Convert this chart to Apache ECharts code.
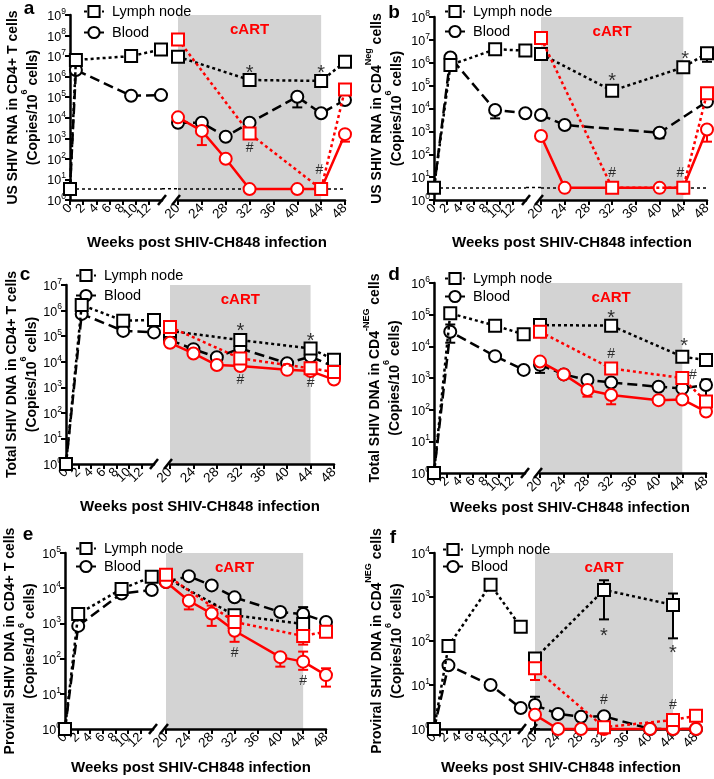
<!DOCTYPE html>
<html><head><meta charset="utf-8">
<script src="https://cdn.jsdelivr.net/npm/echarts@6/dist/echarts.min.js"></script>
<style>html,body{margin:0;padding:0;background:#fff}#c{width:714px;height:779px}</style>
</head><body><div id="c"></div>
<script>
// ---------- DATA: [week, copies per 10^6 cells] ----------
// Panel a: US SHIV RNA in CD4+ T cells
const aLnK = [[0,3.4],[0.9,6.5e6],[9.3,1e7],[13.85,2.1e7],[20,9.3e6],[32,6.9e5],[44,6.2e5],[48,5.3e6]];
const aBlK = [[0,3.4],[0.9,2.1e6],[9.3,1.18e5],[13.85,1.27e5],[20,5.7e3],[24,5.7e3],[28,1.2e3],[32,5.7e3],[40,1.05e5],[44,1.65e4],[48,7.3e4]];
const aLnR = [[20,6.5e7],[32,1.7e3],[44,3.4],[48,2.4e5]];
const aBlR = [[20,1.05e4],[24,2.3e3],[28,102],[32,3.4],[40,3.4],[44,3.4],[48,1.6e3]];
const aErrK = [[40,3.2e4,1.05e5]];
const aErrR = [[24,470,2.3e3],[48,690,1.6e3]];
const aStar = [[32,2.6e6],[44,2.5e6]];
const aHash = [[32,340],[43.7,29]];
// Panel b: US SHIV RNA in CD4Neg cells
const bLnK = [[0,3.4],[2.5,8e5],[9.3,3.9e6],[13.9,3.4e6],[20,2.4e6],[32,6e4],[44,6.3e5],[48,2.6e6]];
const bBlK = [[0,3.4],[2.5,1.7e6],[9.3,8.6e3],[13.9,6.2e3],[20,5.2e3],[24,1.9e3],[40,870],[48,2e4]];
const bLnR = [[20,1.2e7],[32,3.4],[44,3.4],[48,4.6e4]];
const bBlR = [[20,630],[24,3.4],[40,3.4],[44,3.4],[48,1.2e3]];
const bErrK = [[2.5,6e5,1e6],[9.3,3.7e3,8.6e3],[40,500,870],[48,1.1e6,2.6e6]];
const bErrR = [[48,355,1.2e3]];
const bStar = [[32,2.5e5],[44.3,2.2e6]];
const bHash = [[32,15],[43.5,15]];
// Panel c: Total SHIV DNA in CD4+ T cells
const cLnK = [[0,1],[2.5,1.65e6],[9.1,4e5],[14,4.3e5],[20,1.6e5],[32,7e4],[44,3.3e4],[48,1.2e4]];
const cBlK = [[0,1],[2.5,7.4e5],[9.1,1.6e5],[14,1.4e5],[20,7e4],[24,3.1e4],[28,1.5e4],[32,3.3e4],[40,8.7e3],[44,1.6e4],[48,6.3e3]];
const cLnR = [[20,2.3e5],[32,1.35e4],[44,5.5e3],[48,4e3]];
const cBlR = [[20,5.5e4],[24,2.1e4],[28,7.4e3],[32,6.8e3],[40,4.8e3],[44,4.3e3],[48,2e3]];
const cErrK = [];
const cErrR = [[28,5.5e3,7.4e3]];
const cStar = [[32,2.3e5],[44,1e5]];
const cHash = [[32,1.9e3],[44,1.45e3]];
// Panel d: Total SHIV DNA in CD4-NEG cells
const dLnK = [[0,1],[2.5,1.1e5],[9.4,4.5e4],[13.8,2.4e4],[20,4.7e4],[32,4.5e4],[44,4.7e3],[48,3.7e3]];
const dBlK = [[0,1],[2.5,2.9e4],[9.4,4.9e3],[13.8,1.8e3],[20,2.6e3],[24,1.3e3],[28,870],[32,720],[40,530],[44,470],[48,600]];
const dLnR = [[20,2.9e4],[32,2e3],[44,1e3],[48,180]];
const dBlR = [[20,3.3e3],[24,1.3e3],[28,420],[32,290],[40,200],[44,210],[48,87]];
const dErrK = [[2.5,1.3e4,4.9e4],[20,1.45e3,3.7e3],[32,380,720],[48,220,900]];
const dErrR = [[28,257,420],[32,148,290]];
const dStar = [[32,1.1e5],[44.3,1.45e4]];
const dHash = [[32,5.7e3],[45.8,1.2e3]];
// Panel e: Proviral SHIV DNA in CD4+ T cells
const eLnK = [[0,1],[2.1,1.85e3],[9,9.5e3],[13.8,2.1e4],[20,2e4],[32,1.7e3],[44,960]];
const eBlK = [[0,1],[2.1,850],[9,7.1e3],[13.8,8.9e3],[20,1.5e4],[24,2.2e4],[28,1.2e4],[32,5.5e3],[40,2.1e3],[44,1.85e3],[48,1.1e3]];
const eLnR = [[20,2.4e4],[32,1.1e3],[44,440],[48,580]];
const eBlR = [[20,1.5e4],[24,4.4e3],[28,1.9e3],[32,620],[40,110],[44,82],[48,34]];
const eErrK = [[44,1.85e3,2.9e3]];
const eErrR = [[24,2.5e3,4.4e3],[28,850,3.2e3],[32,300,2.4e3],[40,59,110],[44,48,158],[44,250,440],[48,16,53]];
const eStar = [];
const eHash = [[32,141],[44,23]];
// Panel f: Proviral SHIV DNA in CD4NEG cells
const fLnK = [[0,1],[2.3,77],[9,1.9e3],[13.8,210],[20,40],[32,1.45e3],[44,660]];
const fBlK = [[0,1],[2.3,28],[9,10],[13.8,3],[20,3.5],[24,2.2],[28,1.9],[32,1.95],[40,1],[44,1],[48,1]];
const fLnR = [[20,24],[32,1.1],[44,1.6],[48,2]];
const fBlR = [[20,2.1],[24,1],[28,1],[32,1],[40,1],[44,1],[48,1]];
const fErrK = [[32,310,2.4e3],[44,115,1.2e3],[20,1,5.4]];
const fErrR = [[20,13,24]];
const fStar = [[32,162],[44,68]];
const fHash = [[32,4.6],[44,3.5]];

const leftTicks = [0,2,4,6,8,10,12];
const detectionLimit = 3.5;

// ---------- LAYOUT ----------
const FONT = '"Liberation Sans", Arial, Helvetica, sans-serif';
const RED = '#ff0000';
const GRAY = '#d3d3d3';
const SUB = '\n{t|(Copies/10}{s|6}{t| cells)}';
const panels = [
 {id:'a', ya:70, lw:92, x20:178, x48:345, top:15, bottom:200, ymax:1e9, gap:30, letter:[29,9], xt:[207,243], lg:[78,-1,6],
  title:'{t|US SHIV RNA in CD4+ T cells}'+SUB, lnK:aLnK, blK:aBlK, lnR:aLnR, blR:aBlR, errK:aErrK, errR:aErrR, star:aStar, hash:aHash, lod:true},
 {id:'b', ya:434, lw:92, x20:541, x48:707, top:17, bottom:200, ymax:1e8, gap:30, letter:[394,13], xt:[572,243], lg:[439,-1,5],
  title:'{t|US SHIV RNA in CD4}{s|Neg}{t| cells}'+SUB, lnK:bLnK, blK:bBlK, lnR:bLnR, blR:bBlR, errK:bErrK, errR:bErrR, star:bStar, hash:bHash, lod:true},
 {id:'c', ya:66, lw:88, x20:170, x48:334, top:285, bottom:464, ymax:1e7, gap:26, letter:[25,275], xt:[200,507], lg:[70,263,5],
  title:'{t|Total SHIV DNA in CD4+ T cells}'+SUB, lnK:cLnK, blK:cBlK, lnR:cLnR, blR:cBlR, errK:cErrK, errR:cErrR, star:cStar, hash:cHash},
 {id:'d', ya:434, lw:91, x20:540, x48:706, top:283, bottom:473, ymax:1e6, gap:32, letter:[394,275], xt:[570,508], lg:[439,266,3],
  title:'{t|Total SHIV DNA in CD4}{s|-NEG}{t| cells}'+SUB, lnK:dLnK, blK:dBlK, lnR:dLnR, blR:dBlR, errK:dErrK, errR:dErrR, star:dStar, hash:dHash},
 {id:'e', ya:65, lw:88, x20:166, x48:326, top:553, bottom:729, ymax:1e5, gap:28, letter:[28,535], xt:[191,768], lg:[70,536,3],
  title:'{t|Proviral SHIV DNA in CD4+ T cells}'+SUB, lnK:eLnK, blK:eBlK, lnR:eLnR, blR:eBlR, errK:eErrK, errR:eErrR, star:eStar, hash:eHash},
 {id:'f', ya:434, lw:88, x20:535, x48:696, top:553, bottom:729, ymax:1e4, gap:30, letter:[393,538], xt:[561,768], lg:[437,537,2],
  title:'{t|Proviral SHIV DNA in CD4}{s|NEG}{t| cells}'+SUB, lnK:fLnK, blK:fBlK, lnR:fLnR, blR:fBlR, errK:fErrK, errR:fErrR, star:fStar, hash:fHash}
];

const L = d => d.filter(p => p[0] < 16);
const R = d => d.filter(p => p[0] >= 16);

const grid=[], xAxis=[], yAxis=[], series=[], legend=[], graphic=[];
const axLine = {show:true, lineStyle:{color:'#000', width:2.5}};
const axTick = {show:true, length:5, lineStyle:{color:'#000', width:2}};
const xLab = {rotate:45, fontSize:13.5, color:'#000', fontFamily:FONT, margin:6, showMinLabel:true, showMaxLabel:true, hideOverlap:false};

function lineSeries(name, data, gi, isLN, color, z){
  return {type:'line', name:name, xAxisIndex:gi, yAxisIndex:gi, data:data, z:z, clip:false,
    symbol: isLN ? 'rect' : 'circle', symbolSize: 12,
    itemStyle:{color:'#fff', borderColor:color, borderWidth:2},
    lineStyle:{color:color, width:2.5, type: isLN ? [3,3] : (color===RED ? 'solid' : [10,5])},
    emphasis:{disabled:true}};
}
function errSeries(data, gi, color){
  return {type:'custom', xAxisIndex:gi, yAxisIndex:gi, data:data, z:4, clip:false,
    encode:{x:0, y:[1,2]},
    renderItem:(params, api)=>{
      const x = api.value(0);
      const lo = api.coord([x, api.value(1)]);
      const hi = api.coord([x, api.value(2)]);
      const w = 5, st = {stroke:color, lineWidth:2};
      return {type:'group', children:[
        {type:'line', shape:{x1:lo[0],y1:lo[1],x2:hi[0],y2:hi[1]}, style:st},
        {type:'line', shape:{x1:lo[0]-w,y1:lo[1],x2:lo[0]+w,y2:lo[1]}, style:st},
        {type:'line', shape:{x1:hi[0]-w,y1:hi[1],x2:hi[0]+w,y2:hi[1]}, style:st}]};
    }};
}
function annSeries(data, gi, txt, size, dy){
  return {type:'scatter', xAxisIndex:gi, yAxisIndex:gi, data:data, z:9, symbolSize:1,
    itemStyle:{color:'rgba(0,0,0,0)'}, silent:true,
    label:{show:true, position:'inside', offset:[0,dy], formatter:txt, fontSize:size, color:'#000', fontFamily:FONT}};
}
const lodStyle = {color:'#000', width:1.5, type:[3,3]};

panels.forEach((p,i)=>{
  const gL = 2*i, gR = 2*i+1, h = p.bottom - p.top;
  const decades = Math.round(Math.log10(p.ymax));
  grid.push({left:p.ya, top:p.top, width:p.lw, height:h, outerBoundsMode:'none', containLabel:false});
  grid.push({left:p.x20, top:p.top, width:p.x48-p.x20, height:h, outerBoundsMode:'none', containLabel:false});
  xAxis.push({gridIndex:gL, type:'value', min:0, max:14, interval:2, z:3, axisLine:axLine,
    axisTick:Object.assign({customValues:leftTicks}, axTick),
    axisLabel:Object.assign({}, xLab, {fontSize:13, showMaxLabel:false,
      formatter:v => leftTicks.indexOf(v) >= 0 ? String(v) : ''}), splitLine:{show:false}});
  xAxis.push({gridIndex:gR, type:'value', min:20, max:48, interval:4, z:3, axisLine:axLine,
    axisTick:axTick, axisLabel:xLab, splitLine:{show:false}});
  yAxis.push({gridIndex:gL, type:'log', logBase:10, min:1, max:p.ymax, splitNumber:decades, z:3,
    axisLine:axLine, axisTick:axTick, splitLine:{show:false}, minorTick:{show:false},
    axisLabel:{margin:4, formatter:v=>'{b|10}{s|'+Math.round(Math.log10(v))+'}',
      rich:{b:{fontSize:12.5, fontFamily:FONT, color:'#000', verticalAlign:'bottom', lineHeight:16},
            s:{fontSize:8.5, fontFamily:FONT, color:'#000', verticalAlign:'top', lineHeight:10}}},
    name:p.title, nameLocation:'middle', nameGap:p.gap,
    nameTextStyle:{rich:{t:{fontSize:14, fontWeight:'bold', fontFamily:FONT, color:'#000', lineHeight:20, verticalAlign:'bottom'},
                         s:{fontSize:9, fontWeight:'bold', fontFamily:FONT, color:'#000', lineHeight:12, verticalAlign:'top'}}}});
  yAxis.push({gridIndex:gR, type:'log', logBase:10, min:1, max:p.ymax, splitNumber:decades, show:false});

  series.push({type:'line', xAxisIndex:gR, yAxisIndex:gR, data:[], z:1, silent:true,
    markArea:{silent:true, itemStyle:{color:GRAY},
      label:{show:true, position:'insideTop', distance:7, color:RED, fontWeight:'bold', fontSize:15, fontFamily:FONT},
      data:[[{name:'cART', xAxis:20},{xAxis:44}]]}});

  const blL = lineSeries(p.id+'BL', L(p.blK), gL, false, '#000', 5);
  if (p.lod) blL.markLine = {silent:true, symbol:'none', label:{show:false}, lineStyle:lodStyle,
      data:[[{coord:[0,detectionLimit]},{coord:[14,detectionLimit]}]]};
  series.push(blL);
  series.push(lineSeries(p.id+'LN', L(p.lnK), gL, true, '#000', 6));
  const blRk = lineSeries(p.id+'BLr', R(p.blK), gR, false, '#000', 5);
  if (p.lod) blRk.markLine = {silent:true, symbol:'none', label:{show:false}, lineStyle:lodStyle,
      data:[[{coord:[20,detectionLimit]},{coord:[48,detectionLimit]}]]};
  series.push(blRk);
  series.push(lineSeries(p.id+'LNr', R(p.lnK), gR, true, '#000', 6));
  series.push(lineSeries(p.id+'BLred', p.blR, gR, false, RED, 7));
  series.push(lineSeries(p.id+'LNred', p.lnR, gR, true, RED, 8));
  if (L(p.errK).length) series.push(errSeries(L(p.errK), gL, '#000'));
  if (R(p.errK).length) series.push(errSeries(R(p.errK), gR, '#000'));
  if (p.errR.length) series.push(errSeries(p.errR, gR, RED));
  if (p.star.length) series.push(annSeries(p.star, gR, '*', 20, 5));
  if (p.hash.length) series.push(annSeries(p.hash, gR, '#', 14, 0));

  legend.push({orient:'vertical', left:p.lg[0], top:p.lg[1], itemWidth:20, itemHeight:14, itemGap:p.lg[2],
    selectedMode:false, data:[p.id+'LN', p.id+'BL'],
    formatter:n => n.endsWith('LN') ? 'Lymph node' : 'Blood',
    textStyle:{fontSize:14.5, fontFamily:FONT, color:'#000', lineHeight:14, padding:[0,0,0,3]}});

  [[p.ya+p.lw, p.bottom],[p.x20-2, p.bottom]].forEach(c=>{
    graphic.push({type:'line', z:10, shape:{x1:c[0]-4, y1:c[1]+5, x2:c[0]+4, y2:c[1]-5}, style:{stroke:'#000', lineWidth:2.5}});
  });
  graphic.push({type:'text', x:p.letter[0], y:p.letter[1], z:10,
    style:{text:p.id, font:'bold 19px '+FONT, fill:'#000', textAlign:'center', textVerticalAlign:'middle', align:'center', verticalAlign:'middle'}});
  graphic.push({type:'text', x:p.xt[0], y:p.xt[1], z:10,
    style:{text:'Weeks post SHIV-CH848 infection', font:'bold 15px '+FONT, fill:'#000', textAlign:'center', textVerticalAlign:'middle', align:'center', verticalAlign:'middle'}});
});

const chart = echarts.init(document.getElementById('c'), null, {renderer:'canvas'});
chart.setOption({animation:false, backgroundColor:'#fff', grid, xAxis, yAxis, series, legend, graphic, tooltip:{show:false}});

// detection-limit line across the axis break, positioned via the library's own scales
panels.forEach((p,i)=>{
  if (!p.lod) return;
  const a = chart.convertToPixel({gridIndex:2*i}, [14, detectionLimit]);
  const b = chart.convertToPixel({gridIndex:2*i+1}, [20, detectionLimit]);
  graphic.push({type:'line', z:4, shape:{x1:a[0], y1:a[1], x2:b[0], y2:b[1]}, style:{stroke:'#000', lineWidth:1.5, lineDash:[3,3]}});
});
chart.setOption({graphic});
</script></body></html>
